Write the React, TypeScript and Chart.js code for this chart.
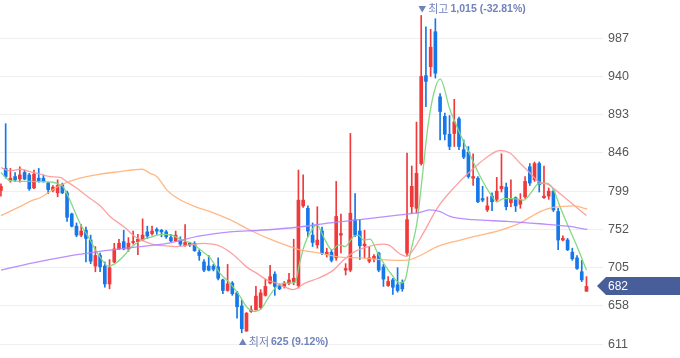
import React, { useEffect, useRef } from 'react';
import { Chart, registerables } from 'chart.js';

Chart.register(...registerables);

// Daily candles (index 0 = oldest)
const opens = [
  800, 827, 812, 817, 814, 822, 819, 803, 815, 815,
  809, 800, 797, 807, 797, 771, 756, 745, 751, 739,
  707, 720, 707, 685, 712, 728, 737, 728, 736, 737,
  739, 749, 747, 752, 751, 749, 742, 738, 739, 732,
  735, 735, 724, 712, 707, 707, 706, 690, 677, 686,
  674, 658, 627, 651, 653, 656, 671, 686, 697, 682,
  682, 686, 688, 683, 781, 778, 745, 733, 750, 721,
  724, 717, 745, 702, 702, 764, 750, 732, 713, 716,
  723, 706, 683, 690, 684, 687, 723, 780, 778, 833,
  941, 952, 995, 915, 891, 869, 870, 888, 850, 847,
  815, 815, 790, 776, 793, 789, 802, 804, 785, 791,
  783, 792, 829, 813, 833, 791, 793, 799, 774, 739,
  739, 724, 717, 700, 676,
];
const highs = [
  808, 882, 827, 822, 829, 825, 821, 825, 827, 819,
  810, 806, 813, 809, 799, 772, 760, 758, 755, 745,
  731, 723, 712, 715, 735, 740, 751, 742, 750, 746,
  765, 756, 756, 754, 752, 751, 746, 750, 743, 758,
  736, 737, 727, 715, 720, 709, 717, 691, 709, 688,
  676, 665, 650, 658, 682, 678, 691, 708, 700, 685,
  688, 698, 740, 825, 819, 781, 760, 780, 755, 729,
  727, 811, 771, 710, 870, 796, 764, 751, 731, 721,
  724, 709, 694, 692, 705, 690, 846, 830, 884, 1015,
  1001, 998, 1011, 919, 895, 892, 912, 890, 862, 854,
  845, 817, 805, 792, 797, 816, 845, 809, 813, 792,
  796, 817, 833, 835, 835, 830, 803, 801, 778, 744,
  741, 729, 720, 714, 694,
];
const lows = [
  793, 815, 810, 811, 810, 813, 800, 802, 810, 810,
  796, 798, 792, 796, 762, 755, 743, 743, 712, 710,
  700, 700, 681, 679, 711, 727, 727, 725, 734, 721,
  738, 741, 745, 746, 743, 741, 737, 737, 732, 731,
  731, 725, 714, 700, 701, 701, 690, 673, 676, 671,
  643, 625, 627, 650, 653, 654, 670, 685, 671, 678,
  680, 684, 684, 680, 779, 743, 731, 729, 721, 718,
  712, 714, 723, 696, 700, 743, 715, 717, 711, 712,
  700, 682, 682, 672, 675, 676, 720, 772, 772, 831,
  903, 940, 938, 862, 862, 850, 854, 850, 839, 815,
  806, 785, 786, 774, 775, 786, 798, 776, 780, 774,
  778, 790, 806, 811, 798, 790, 789, 774, 727, 738,
  726, 714, 703, 688, 676,
];
const closes = [
  805, 817, 815, 813, 819, 814, 802, 820, 812, 811,
  801, 804, 806, 797, 767, 756, 745, 750, 741, 713,
  720, 706, 685, 705, 728, 735, 728, 735, 737, 740,
  745, 744, 750, 750, 749, 743, 738, 745, 734, 736,
  733, 726, 720, 702, 702, 703, 692, 677, 685, 673,
  657, 630, 649, 653, 670, 674, 682, 694, 682, 679,
  686, 690, 692, 788, 788, 750, 736, 739, 723, 724,
  714, 768, 747, 704, 772, 745, 732, 734, 717, 719,
  702, 691, 688, 681, 677, 679, 764, 805, 821, 940,
  934, 976, 944, 897, 869, 854, 884, 854, 841, 817,
  817, 786, 788, 781, 786, 799, 805, 780, 789, 781,
  788, 811, 809, 833, 807, 793, 799, 776, 739, 741,
  727, 716, 704, 690, 682,
];

// Moving averages: [candle index, price]
const ma5 = [
  [0, 822], [1.9, 812], [5.1, 811], [11, 810], [12.1, 808], [13.1, 805], [14.6, 788],
  [16.7, 760], [18.9, 739], [19.9, 728], [21, 718], [22.7, 707], [24.2, 710], [25.6, 717],
  [27.8, 731], [29.9, 739], [32, 743], [34.1, 746], [36.2, 745], [38.3, 739], [40.5, 735],
  [42.2, 727], [44.3, 717], [46.4, 698], [48.5, 686], [50.6, 670], [52, 657], [53.8, 651],
  [55.2, 655], [56.6, 668], [58.4, 682], [60.5, 686], [62.3, 687], [63.3, 712], [64.4, 735],
  [65.5, 748], [66.9, 758], [68.3, 743], [70.1, 727], [71.5, 733], [72.9, 731], [74.6, 743],
  [75.7, 745], [76.8, 739], [78.2, 740], [79.6, 725], [81, 711], [82.8, 696], [84.5, 686],
  [85.6, 690], [86.7, 723], [88.1, 760], [89.2, 815], [90.5, 882], [91.7, 920], [93, 937],
  [95.1, 899], [97.2, 870], [99.4, 843], [101.5, 817], [103.6, 796], [105, 786], [106.4, 790],
  [108.5, 790], [110.7, 788], [112.1, 796], [113.8, 808], [115.6, 809], [117, 801],
  [118.4, 780], [120.2, 755], [122, 731], [124, 702],
];
const ma20 = [
  [0, 828], [1.9, 824], [4, 826], [6.1, 823], [8.3, 820], [10.4, 817], [12.5, 816],
  [13.9, 811], [16, 803], [18.9, 790], [21, 781], [23.1, 768], [26.3, 754], [28.4, 743],
  [30.5, 737], [32.6, 733], [34.7, 732], [36.9, 731], [40, 733], [42.8, 735], [45.7, 733],
  [47.8, 727], [50, 717], [52, 706], [54.2, 698], [56.3, 690], [58.4, 686], [60.2, 681],
  [61.9, 678], [64.4, 686], [67.2, 692], [70.4, 702], [72.5, 714], [75, 725], [77.8, 731],
  [80.7, 734], [82.1, 733], [84.2, 723], [85.9, 719], [87.3, 727], [89.5, 748], [92.6, 780],
  [96.2, 805], [99.7, 825], [102.5, 839], [105.7, 849], [107.8, 846], [110, 833],
  [112.1, 821], [113.8, 811], [116, 807], [118.4, 796], [121.3, 782], [124, 769],
];
const ma60 = [
  [0, 769], [4, 780], [6.8, 788], [8.3, 791], [12.5, 806], [16.7, 815], [21, 820],
  [25.2, 823], [29.9, 826], [31.6, 821], [33, 817], [34.1, 809], [35.2, 800], [37.5, 790],
  [41.1, 780], [44.3, 774], [48.5, 764], [52.8, 751], [57, 740], [61.2, 731], [63.3, 727],
  [67.6, 723], [71.8, 718], [76, 717], [80.3, 715], [84.5, 714], [86.7, 715], [88.8, 720],
  [92.4, 731], [97.3, 739], [101.5, 745], [105.7, 751], [110, 760], [114.2, 774],
  [117, 779], [121.2, 781], [124.2, 777],
];
const ma120 = [
  [0, 702], [6.8, 711], [14, 719], [21, 725], [28, 730], [35.2, 735], [42.2, 744],
  [48.5, 749], [54.9, 751], [63.3, 755], [69.7, 760], [76, 764], [84.5, 770], [88.8, 773],
  [90.9, 776], [93, 774], [95.1, 768], [100, 764], [107.2, 762], [114.2, 759], [120, 756],
  [124.2, 752],
];

const yTicks = [611, 658, 705, 752, 799, 846, 893, 940, 987];
const currentPrice = 682;
const highMark = { index: 89, name: '최고', text: '1,015 (-32.81%)' };
const lowMark = { index: 51, name: '최저', text: '625 (9.12%)' };

const RED = '#f0393b';
const BLUE = '#1677e8';
const MARK = '#7083bd';
const BADGE = '#475e9a';
const KFONT = '"Noto Sans CJK KR", "Noto Sans", sans-serif';
const NFONT = '"Liberation Sans", Arial, sans-serif';

const overlay = {
  id: 'overlay',
  afterDraw(chart: any) {
    const { ctx, scales, chartArea } = chart;
    const x = scales.x;
    const y = scales.y;
    ctx.save();

    // current price badge
    const py = Math.round(y.getPixelForValue(currentPrice));
    const tip = chartArea.right - 6;
    ctx.fillStyle = BADGE;
    ctx.beginPath();
    ctx.moveTo(tip, py);
    ctx.lineTo(tip + 9, py - 9);
    ctx.lineTo(680, py - 9);
    ctx.lineTo(680, py + 9);
    ctx.lineTo(tip + 9, py + 9);
    ctx.closePath();
    ctx.fill();
    ctx.fillStyle = '#ffffff';
    ctx.font = `12px ${NFONT}`;
    ctx.textBaseline = 'middle';
    ctx.textAlign = 'left';
    ctx.fillText(String(currentPrice), chartArea.right + 5, py + 0.5);

    const drawMark = (m: any, tri: string, cy: number) => {
      let px = x.getPixelForValue(m.index) - 3;
      ctx.fillStyle = MARK;
      ctx.textBaseline = 'middle';
      ctx.font = `8px ${KFONT}`;
      ctx.fillText(tri, px, cy);
      px += ctx.measureText(tri).width + 2;
      ctx.font = `11px ${KFONT}`;
      ctx.fillText(m.name, px, cy);
      px += ctx.measureText(m.name).width + 2;
      ctx.font = `bold 10.5px ${NFONT}`;
      ctx.fillText(m.text, px, cy + 0.5);
    };
    drawMark(highMark, '▼', 9);
    drawMark(lowMark, '▲', 342);
    ctx.restore();
  },
};

export default function App() {
  const ref = useRef<HTMLCanvasElement | null>(null);

  useEffect(() => {
    document.body.style.margin = '0';
    const canvas = ref.current;
    if (!canvas) return;
    const bodyColors = opens.map((o, i) => (closes[i] >= o ? RED : BLUE));
    const lineDs = (data: number[][], color: string) => ({
      type: 'line' as const,
      data: data.map(([i, v]) => ({ x: i, y: v })),
      borderColor: color,
      borderWidth: 1.3,
      pointRadius: 0,
      cubicInterpolationMode: 'monotone' as const,
      order: 0,
    });
    const chart = new Chart(canvas, {
      type: 'bar',
      data: {
        datasets: [
          lineDs(ma120, 'rgba(180,130,255,0.9)'),
          lineDs(ma60, 'rgba(255,176,120,0.9)'),
          lineDs(ma20, 'rgba(255,150,150,0.9)'),
          lineDs(ma5, 'rgba(125,215,125,0.95)'),
          {
            type: 'bar',
            data: opens.map((o, i) => ({ x: i, y: [Math.min(o, closes[i]), Math.max(o, closes[i])] })),
            backgroundColor: bodyColors,
            barThickness: 3,
            minBarLength: 1,
            grouped: false,
            order: 1,
          } as any,
          {
            type: 'bar',
            data: lows.map((l, i) => ({ x: i, y: [l, highs[i]] })),
            backgroundColor: bodyColors,
            barThickness: 1,
            grouped: false,
            order: 2,
          } as any,
        ],
      },
      options: {
        responsive: false,
        animation: false,
        devicePixelRatio: 1,
        layout: { padding: 0 },
        plugins: { legend: { display: false }, tooltip: { enabled: false } },
        scales: {
          x: { type: 'linear', min: -0.2, max: 127.5, display: false, offset: false, grid: { offset: false } },
          y: {
            position: 'right',
            min: 594,
            max: 1034,
            offset: false,
            beginAtZero: false,
            grace: 0,
            border: { display: false },
            grid: { color: '#efefef', drawTicks: false, offset: false },
            ticks: {
              padding: 5,
              color: '#555555',
              font: { size: 12.5, family: NFONT },
            },
            afterBuildTicks: (scale: any) => {
              scale.ticks = yTicks.map((v) => ({ value: v }));
            },
            afterFit: (scale: any) => {
              scale.width = 77;
              scale.paddingTop = 0;
              scale.paddingBottom = 0;
            },
          },
        },
      } as any,
      plugins: [overlay],
    });
    return () => chart.destroy();
  }, []);

  return (
    <div style={{ width: 680, height: 358 }}>
      <canvas ref={ref} width={680} height={358} style={{ display: 'block' }} />
    </div>
  );
}
